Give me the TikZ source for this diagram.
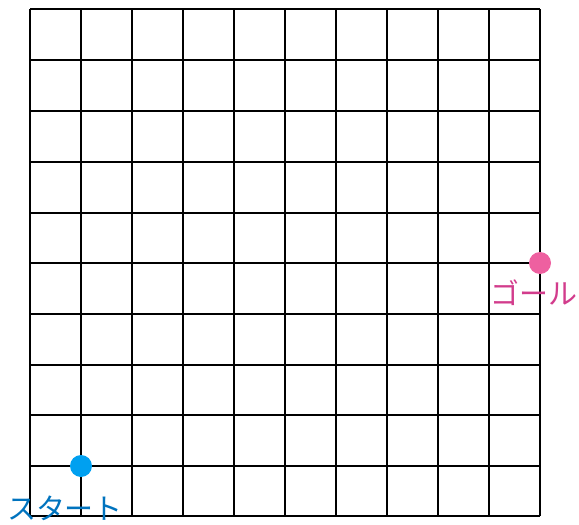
\documentclass[tikz,border=0pt]{standalone}
\usepackage{fontspec}
\newfontfamily\cjk{Noto Sans CJK JP}
\definecolor{startdot}{RGB}{0,160,240}
\definecolor{starttext}{RGB}{0,115,190}
\definecolor{goaldot}{RGB}{238,96,160}
\definecolor{goaltext}{RGB}{210,60,140}
\tikzset{
  gridline/.style={line width=2.4pt, black},
  dot/.style={circle, inner sep=0pt, minimum size=22pt},
  lbl/.style={font=\cjk\fontsize{29pt}{31pt}\selectfont, inner sep=0pt}
}
\begin{document}
\begin{tikzpicture}[x=1pt,y=-1pt]
\useasboundingbox (0,0) rectangle (579,525);
\foreach \i in {0,...,10} {
  \draw[gridline] ({30+51*\i},9) -- ({30+51*\i},516);
}
\foreach \y in {9,60,111,162,213,263,314,365,415,466,516} {
  \draw[gridline] (30,\y) -- (540,\y);
}
\node[dot, fill=startdot] (start) at (81,466) {};
\node[dot, fill=goaldot] (goal) at (540,263) {};
\node[lbl, text=starttext] (startlbl) at (65,508) {スタート};
\node[lbl, text=goaltext] (goallbl) at (534,293) {ゴール};
\end{tikzpicture}
\end{document}
